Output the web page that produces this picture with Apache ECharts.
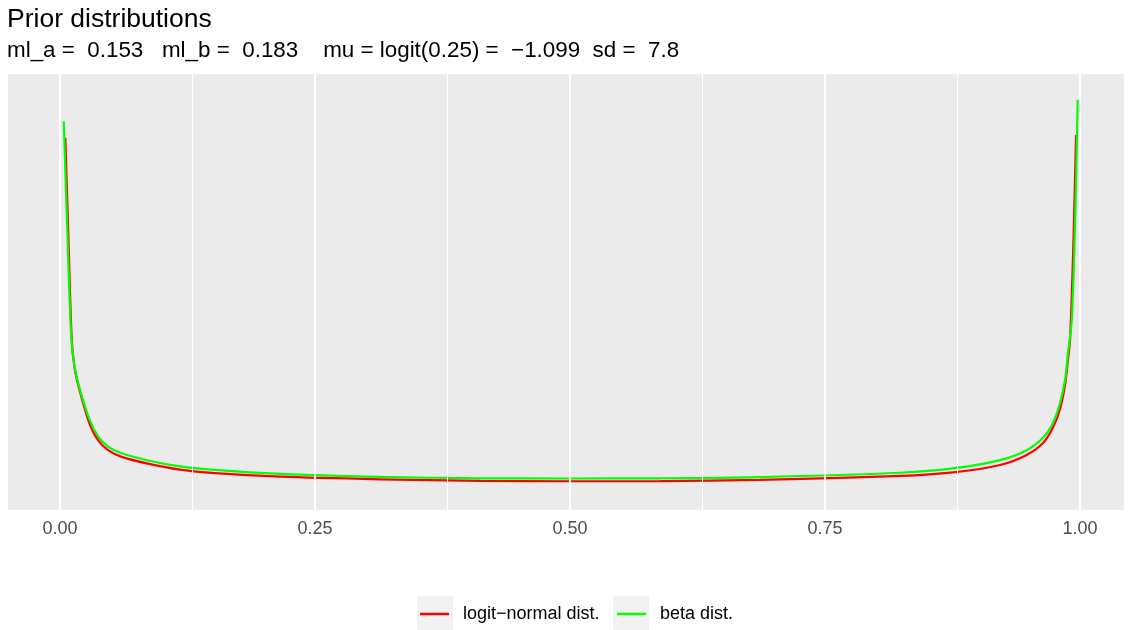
<!DOCTYPE html>
<html>
<head>
<meta charset="utf-8">
<script src="https://cdn.jsdelivr.net/npm/echarts@6/dist/echarts.min.js"></script>
<style>
html,body{margin:0;padding:0;background:#fff;}
#chart{width:1132px;height:630px;}
</style>
</head>
<body>
<div id="chart"></div>
<script>
// ---- data ----
var titleText = 'Prior distributions';
var subtitleText = 'ml_a =  0.153   ml_b =  0.183    mu = logit(0.25) =  \u22121.099  sd =  7.8';
var seriesNames = ['logit\u2212normal dist.', 'beta dist.'];
var majorBreaks = [0, 0.25, 0.5, 0.75, 1];
var tickLabels = ['0.00', '0.25', '0.50', '0.75', '1.00'];
var minorBreaks = [0.125, 0.375, 0.625, 0.875];

var logitX = [0.0052, 0.0083, 0.0115, 0.0145, 0.0194, 0.0284, 0.0373, 0.0471, 0.0605, 0.0863, 0.1176, 0.152, 0.2157, 0.3137, 0.4118, 0.5, 0.588, 0.686, 0.8235, 0.8755, 0.9216, 0.9477, 0.9637, 0.9735, 0.9804, 0.9853, 0.9882, 0.9902, 0.9934, 0.9961];
var logitY = [8.89, 6.31, 3.79, 3.05, 2.50, 1.72, 1.26, 1.01, 0.84, 0.67, 0.52, 0.43, 0.34, 0.275, 0.235, 0.225, 0.228, 0.26, 0.36, 0.45, 0.636, 0.89, 1.19, 1.58, 2.05, 2.65, 3.30, 3.79, 6.14, 8.96];

var betaX = [0.00363, 0.00716, 0.0108, 0.0137, 0.0186, 0.0287, 0.0373, 0.0471, 0.0605, 0.0863, 0.1176, 0.152, 0.2157, 0.3137, 0.4118, 0.5, 0.588, 0.686, 0.8235, 0.8755, 0.9216, 0.9477, 0.9637, 0.9735, 0.9804, 0.9853, 0.9882, 0.9919, 0.9954, 0.9977];
var betaY = [9.31, 6.56, 3.95, 3.20, 2.62, 1.80, 1.36, 1.10, 0.93, 0.75, 0.60, 0.51, 0.41, 0.335, 0.30, 0.295, 0.30, 0.33, 0.44, 0.55, 0.76, 1.01, 1.32, 1.70, 2.20, 2.78, 3.46, 4.29, 6.99, 9.85];

function zip(xs, ys) { return xs.map(function (x, i) { return [x, ys[i]]; }); }

var FONT = '"Liberation Sans", Arial, Helvetica, sans-serif';
var chart = echarts.init(document.getElementById('chart'), null, {renderer: 'canvas'});

var gridLines = majorBreaks.map(function (v) {
  return {xAxis: v, lineStyle: {color: '#FFFFFF', width: 2, type: 'solid'}};
}).concat(minorBreaks.map(function (v) {
  return {xAxis: v, lineStyle: {color: '#FFFFFF', width: 1, type: 'solid'}};
}));

var option = {
  animation: false,
  backgroundColor: '#FFFFFF',
  textStyle: {fontFamily: FONT},
  title: [
    {text: titleText, left: 7, top: 6, padding: 0,
     textStyle: {fontFamily: FONT, fontSize: 26.5, fontWeight: 'normal', color: '#000000'}},
    {text: subtitleText, left: 7, top: 40, padding: 0,
     textStyle: {fontFamily: FONT, fontSize: 22.4, fontWeight: 'normal', color: '#000000'}}
  ],
  grid: {left: 8, right: 8, top: 74, bottom: 120, show: true,
         backgroundColor: '#EBEBEB', borderWidth: 0, containLabel: false},
  xAxis: {
    type: 'value', min: -0.051, max: 1.0431,
    axisLine: {show: false},
    splitLine: {show: false},
    axisTick: {show: true, length: 5, customValues: majorBreaks,
               lineStyle: {color: '#333333', width: 2}},
    axisLabel: {show: true, customValues: majorBreaks, margin: 10,
                fontFamily: FONT, fontSize: 18, color: '#4D4D4D',
                formatter: function (v) { var i = majorBreaks.indexOf(v); return i >= 0 ? tickLabels[i] : ''; }}
  },
  yAxis: {type: 'value', min: -0.5, max: 10.5, show: false, splitLine: {show: false}},
  legend: [
    {data: [seriesNames[0]], left: 420, top: 605, padding: 0, icon: 'rect',
     itemWidth: 29, itemHeight: 2.5,
     textStyle: {fontFamily: FONT, fontSize: 18, color: '#000000', padding: [0, 0, 0, 9]}},
    {data: [seriesNames[1]], left: 617, top: 605, padding: 0, icon: 'rect',
     itemWidth: 29, itemHeight: 2.5,
     textStyle: {fontFamily: FONT, fontSize: 18, color: '#000000', padding: [0, 0, 0, 9]}}
  ],
  graphic: [
    {type: 'rect', shape: {x: 417, y: 596, width: 36, height: 34}, style: {fill: '#F2F2F2'}, z: -1},
    {type: 'rect', shape: {x: 613, y: 596, width: 36, height: 34}, style: {fill: '#F2F2F2'}, z: -1}
  ],
  series: [
    {type: 'line', name: '__grid', data: [], silent: true, z: 1,
     markLine: {silent: true, symbol: ['none', 'none'], label: {show: false}, animation: false, data: gridLines}},
    {type: 'line', name: seriesNames[0], data: zip(logitX, logitY), showSymbol: false, symbol: 'none',
     smooth: 0.3, z: 3,
     itemStyle: {color: '#FF0000'}, lineStyle: {color: '#FF0000', width: 2.2}},
    {type: 'line', name: seriesNames[1], data: zip(betaX, betaY), showSymbol: false, symbol: 'none',
     smooth: 0.3, z: 4,
     itemStyle: {color: '#00FF00'}, lineStyle: {color: '#00FF00', width: 2.2}}
  ]
};
chart.setOption(option);
</script>
</body>
</html>
